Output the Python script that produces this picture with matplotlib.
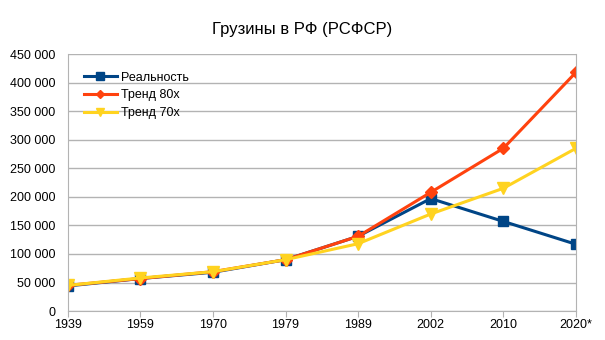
import matplotlib.pyplot as plt

plt.rcParams['font.family'] = ['Liberation Sans', 'DejaVu Sans']

years = ['1939', '1959', '1970', '1979', '1989', '2002', '2010', '2020*']
real = [44000, 57000, 68000, 90000, 131000, 197000, 157000, 117000]
trend_80 = [45000, 57000, 69000, 90000, 131000, 208000, 285000, 418000]
trend_70 = [45000, 58000, 69000, 90000, 118000, 170000, 215000, 285000]


def fmt(v, pos):
    return '{:,}'.format(int(v)).replace(',', ' ')


def main():
    fig = plt.figure(figsize=(6.05, 3.4), dpi=100)
    ax = fig.add_axes([0.112, 0.085, 0.84, 0.756])
    x = range(len(years))

    ax.plot(x, real, color='#004586', lw=2.2, marker='s', ms=7.5, label='Реальность')
    ax.plot(x, trend_80, color='#ff420e', lw=2.2, marker='D', ms=6, label='Тренд 80х')
    ax.plot(x, trend_70, color='#ffd320', lw=2.2, marker='v', ms=8, label='Тренд 70х')

    ax.set_xlim(0, len(years) - 1)
    ax.set_ylim(0, 450000)
    ax.set_yticks(range(0, 450001, 50000))
    ax.yaxis.set_major_formatter(plt.FuncFormatter(fmt))
    ax.set_xticks(list(x))
    ax.set_xticklabels(years)
    ax.tick_params(axis='both', labelsize=9, labelcolor='black')
    ax.tick_params(axis='y', length=0, pad=9)
    ax.tick_params(axis='x', length=4, color='#b3b3b3', pad=2)

    ax.grid(axis='y', color='#b3b3b3', lw=1)
    ax.set_axisbelow(True)
    ax.spines['top'].set_visible(False)
    for side in ['left', 'right', 'bottom']:
        ax.spines[side].set_color('#b3b3b3')

    ax.legend(loc='upper left', bbox_to_anchor=(0.01, 0.975), frameon=False,
              fontsize=9, handlelength=2.6, handletextpad=0.35, labelspacing=0.45,
              markerscale=0.7)

    fig.suptitle('Грузины в РФ (РСФСР)', y=0.935, fontsize=12)
    fig.savefig('out.png')


if __name__ == '__main__':
    main()
